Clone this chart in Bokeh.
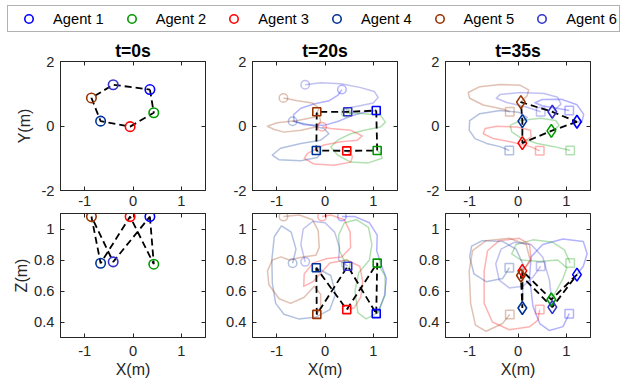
from bokeh.plotting import figure
from bokeh.models import Range1d, FixedTicker, LinearAxis, Legend, LegendItem
from bokeh.layouts import column, row
from bokeh.embed import file_html
from bokeh.resources import INLINE

# ---------------- data ----------------
agents = ["Agent 1", "Agent 2", "Agent 3", "Agent 4", "Agent 5", "Agent 6"]
colors = ["#0000FF", "#009900", "#FF0000", "#003399", "#993300", "#3333CC"]
titles = ["t=0s", "t=20s", "t=35s"]

x_ticks = [-1, 0, 1]
x_tick_labels = ["-1", "0", "1"]
y_ticks = [-2, 0, 2]
y_tick_labels = ["-2", "0", "2"]
z_ticks = [0.4, 0.6, 0.8, 1.0]
z_tick_labels = ["0.4", "0.6", "0.8", "1"]

ring = [0, 1, 2, 3, 4, 5, 0]

# agent positions (X, Y, Z) at the three instants
x_t0 = [0.35, 0.43, -0.06, -0.67, -0.86, -0.41]
y_t0 = [1.13, 0.41, -0.02, 0.15, 0.87, 1.28]
z_t0 = [1.08, 0.773, 1.08, 0.779, 1.08, 0.788]

x_t20 = [1.06, 1.08, 0.45, -0.18, -0.17, 0.47]
y_t20 = [0.48, -0.76, -0.77, -0.76, 0.44, 0.44]
z_t20 = [0.454, 0.78, 0.48, 0.75, 0.449, 0.76]

x_t35 = [1.22, 0.69, 0.09, 0.09, 0.06, 0.71]
y_t35 = [0.13, -0.15, -0.53, 0.15, 0.74, 0.44]
z_t35 = [0.706, 0.545, 0.73, 0.49, 0.70, 0.496]

# trajectories 0s -> 20s, top view (X, Y)
path_xy_20_x = [
    [0.35, 0.27, 0.08, -0.23, -0.50, -0.65, -0.64, -0.43, -0.02, 0.26, 0.53, 0.81, 1.06],
    [0.43, 0.81, 1.15, 1.25, 1.15, 0.81, 0.53, 0.26, 0.12, 0.26, 0.53, 0.88, 1.18, 1.15, 1.08],
    [-0.06, 0.12, 0.53, 0.77, 0.67, 0.33, -0.02, -0.36, -0.43, -0.23, 0.19, 0.53, 0.57, 0.45],
    [-0.67, -0.33, -0.02, 0.08, -0.09, -0.50, -0.92, -1.09, -0.95, -0.50, -0.16, -0.09, -0.18],
    [-0.86, -0.57, -0.26, -0.12, -0.22, -0.57, -0.99, -1.19, -1.05, -0.85, -0.50, -0.19, -0.09, -0.12, -0.17],
    [-0.41, -0.09, 0.33, 0.74, 1.02, 1.10, 1.00, 0.67, 0.43, 0.47],
]
path_xy_20_y = [
    [1.13, 0.96, 0.78, 0.68, 0.55, 0.35, 0.15, 0.04, 0.02, 0.14, 0.30, 0.43, 0.48],
    [0.41, 0.38, 0.33, 0.12, -0.03, -0.13, -0.24, -0.44, -0.65, -0.90, -1.12, -1.15, -1.00, -0.85, -0.76],
    [-0.02, -0.08, -0.13, -0.31, -0.44, -0.49, -0.59, -0.85, -1.00, -1.18, -1.22, -1.12, -0.95, -0.77],
    [0.15, 0.04, -0.08, -0.24, -0.44, -0.54, -0.69, -0.90, -1.05, -1.08, -0.98, -0.84, -0.76],
    [0.87, 0.78, 0.71, 0.55, 0.27, 0.17, 0.10, -0.01, -0.11, -0.19, -0.13, -0.03, 0.14, 0.33, 0.44],
    [1.28, 1.34, 1.31, 1.19, 1.07, 0.89, 0.71, 0.61, 0.55, 0.44],
]

# trajectories 20s -> 35s, top view (X, Y)
path_xy_35_x = [
    [1.06, 0.80, 0.50, 0.35, 0.50, 0.90, 1.22, 1.36, 1.32, 1.22],
    [1.08, 0.75, 0.40, 0.08, -0.13, -0.16, 0.05, 0.47, 0.78, 0.85, 0.75, 0.69],
    [0.45, 0.26, -0.16, -0.51, -0.72, -0.68, -0.44, -0.02, 0.26, 0.27, 0.09],
    [-0.18, -0.37, -0.65, -0.89, -1.01, -1.00, -0.79, -0.37, 0.01, 0.19, 0.09],
    [-0.17, -0.30, -0.72, -1.00, -1.03, -0.79, -0.37, 0.05, 0.22, 0.19, 0.06],
    [0.47, 0.19, -0.23, -0.45, -0.37, 0.05, 0.54, 0.82, 0.89, 0.71],
]
path_xy_35_y = [
    [0.48, 0.55, 0.63, 0.72, 0.82, 0.83, 0.66, 0.36, 0.12, 0.13],
    [-0.76, -0.64, -0.54, -0.39, -0.18, 0.02, 0.17, 0.24, 0.17, 0.02, -0.12, -0.15],
    [-0.77, -0.64, -0.49, -0.39, -0.24, -0.08, -0.01, -0.03, -0.13, -0.34, -0.53],
    [-0.76, -0.64, -0.54, -0.39, -0.13, 0.17, 0.38, 0.48, 0.43, 0.27, 0.15],
    [0.44, 0.52, 0.65, 0.86, 1.04, 1.22, 1.29, 1.26, 1.12, 0.94, 0.74],
    [0.44, 0.58, 0.73, 0.86, 0.98, 1.04, 1.01, 0.89, 0.68, 0.44],
]

# trajectories 0s -> 20s, side view (X, Z)
path_xz_20_x = [
    [0.35, 0.62, 0.92, 1.08, 1.07, 1.15, 1.27, 1.23, 1.12, 1.06],
    [0.43, 0.30, 0.28, 0.40, 0.65, 0.90, 0.97, 0.92, 0.70, 0.62, 0.68, 0.85, 1.10, 1.25, 1.24, 1.08],
    [-0.06, 0.12, 0.40, 0.52, 0.53, 0.35, 0.05, -0.25, -0.43, -0.44, -0.25, 0.10, 0.45, 0.72, 0.78, 0.74, 0.60, 0.45],
    [-0.67, -0.60, -0.70, -0.90, -1.05, -1.10, -1.09, -1.02, -0.85, -0.55, -0.20, 0.10, 0.22, 0.12, -0.18],
    [-0.86, -0.53, -0.26, -0.14, -0.12, -0.19, -0.46, -0.74, -0.91, -1.09, -1.19, -1.16, -0.95, -0.71, -0.43, -0.22, -0.09, -0.09, -0.17],
    [-0.41, -0.50, -0.45, -0.25, 0.00, 0.20, 0.30, 0.28, 0.47],
]
path_xz_20_z = [
    [1.08, 1.08, 1.04, 0.96, 0.86, 0.78, 0.68, 0.57, 0.48, 0.454],
    [0.773, 0.86, 0.96, 1.04, 1.06, 1.01, 0.90, 0.80, 0.72, 0.60, 0.46, 0.42, 0.46, 0.58, 0.70, 0.78],
    [1.08, 1.09, 1.06, 0.98, 0.88, 0.82, 0.81, 0.78, 0.71, 0.63, 0.66, 0.78, 0.80, 0.76, 0.66, 0.56, 0.49, 0.48],
    [0.779, 0.87, 0.98, 1.02, 0.95, 0.80, 0.65, 0.52, 0.45, 0.42, 0.43, 0.48, 0.58, 0.70, 0.75],
    [1.08, 1.09, 1.06, 0.99, 0.88, 0.83, 0.82, 0.80, 0.82, 0.80, 0.73, 0.64, 0.55, 0.52, 0.56, 0.63, 0.58, 0.50, 0.449],
    [0.788, 0.90, 1.00, 1.05, 1.04, 0.98, 0.88, 0.80, 0.76],
]

# trajectories 20s -> 35s, side view (X, Z)
path_xz_35_x = [
    [1.06, 0.93, 0.65, 0.45, 0.31, 0.24, 0.27, 0.51, 0.93, 1.35, 1.43, 1.35, 1.22],
    [1.08, 0.96, 0.72, 0.31, -0.04, -0.13, 0.06, 0.45, 0.82, 1.01, 0.93, 0.79, 0.69],
    [0.45, 0.41, 0.24, -0.18, -0.53, -0.70, -0.70, -0.63, -0.39, 0.03, 0.24, 0.27, 0.09],
    [-0.18, -0.32, -0.66, -0.91, -1.00, -0.96, -0.74, -0.32, -0.04, 0.10, 0.10, 0.09],
    [-0.17, -0.32, -0.66, -0.88, -0.98, -1.01, -0.94, -0.66, -0.18, 0.17, 0.25, 0.06],
    [0.47, 0.31, 0.10, -0.18, -0.39, -0.46, -0.35, -0.08, 0.27, 0.51, 0.65, 0.71],
]
path_xz_35_z = [
    [0.454, 0.37, 0.345, 0.39, 0.50, 0.69, 0.82, 0.90, 0.936, 0.92, 0.84, 0.76, 0.706],
    [0.78, 0.865, 0.914, 0.93, 0.90, 0.84, 0.80, 0.79, 0.80, 0.75, 0.68, 0.60, 0.545],
    [0.48, 0.41, 0.37, 0.35, 0.40, 0.52, 0.73, 0.86, 0.925, 0.94, 0.90, 0.80, 0.73],
    [0.75, 0.68, 0.66, 0.71, 0.82, 0.89, 0.925, 0.92, 0.87, 0.775, 0.646, 0.49],
    [0.449, 0.39, 0.34, 0.38, 0.52, 0.73, 0.86, 0.925, 0.94, 0.90, 0.80, 0.70],
    [0.76, 0.69, 0.63, 0.62, 0.67, 0.775, 0.87, 0.914, 0.90, 0.82, 0.67, 0.496],
]

# ---------------- styling ----------------
FONT = "Liberation Sans"
AX = "#262626"
TICK_FS = "14.7px"


def style_axis(ax, ticks, labels, show, standoff=6):
    ax.ticker = FixedTicker(ticks=ticks)
    ax.major_tick_in = 4
    ax.major_tick_out = 0
    ax.minor_tick_in = 0
    ax.minor_tick_out = 0
    ax.axis_line_color = AX
    ax.major_tick_line_color = AX
    ax.major_label_text_font = FONT
    ax.major_label_text_color = AX
    if show:
        ax.major_label_overrides = {t: l for t, l in zip(ticks, labels)}
        ax.major_label_text_font_size = TICK_FS
        ax.major_label_standoff = standoff
    else:
        ax.major_label_overrides = {t: "" for t in ticks}
        ax.major_label_text_font_size = "0px"
        ax.major_label_standoff = 0


def style_label(ax, text, standoff):
    ax.axis_label = text
    ax.axis_label_text_font = FONT
    ax.axis_label_text_font_size = "16px"
    ax.axis_label_text_font_style = "normal"
    ax.axis_label_text_color = AX
    ax.axis_label_standoff = standoff


def make_panel(w, h, bl, br, bt, bb, yr, yt, ylbl, title=None, ylabel=None, xlabel=None,
               ylabel_standoff=2, x_std=5):
    p = figure(width=w, height=h, x_range=Range1d(-1.5, 1.5), y_range=Range1d(*yr),
               output_backend="svg", toolbar_location=None, title=title,
               x_axis_location=None, y_axis_location=None,
               min_border_left=bl, min_border_right=br, min_border_top=bt, min_border_bottom=bb)
    p.grid.visible = False
    p.outline_line_color = AX
    p.outline_line_width = 1
    p.background_fill_color = "white"
    p.border_fill_color = "white"
    bottom_ax = LinearAxis()
    left_ax = LinearAxis()
    top_ax = LinearAxis()
    right_ax = LinearAxis()
    style_axis(bottom_ax, x_ticks, x_tick_labels, True, x_std)
    style_axis(left_ax, yt, ylbl, True, 6)
    style_axis(top_ax, x_ticks, x_tick_labels, False)
    style_axis(right_ax, yt, ylbl, False)
    if ylabel:
        style_label(left_ax, ylabel, ylabel_standoff)
    if xlabel:
        style_label(bottom_ax, xlabel, 2)
    p.add_layout(bottom_ax, "below")
    p.add_layout(left_ax, "left")
    p.add_layout(top_ax, "above")
    p.add_layout(right_ax, "right")
    if title is not None:
        p.title.align = "center"
        p.title.text_font = FONT
        p.title.text_font_size = "17.6px"
        p.title.text_font_style = "bold"
        p.title.text_color = "black"
        p.title.standoff = 2
    return p


def add_content(p, cx, cy, marker, msize, px=None, py=None, prev_x=None, prev_y=None, prev_marker=None):
    if px is not None:
        p.multi_line(xs=px, ys=py, line_color=colors, line_alpha=0.3, line_width=1.5,
                     line_join="round")
        p.scatter(prev_x, prev_y, marker=prev_marker, size=8.5, fill_color=None,
                  line_color=colors, line_alpha=0.3, line_width=1.5)
    p.line([cx[i] for i in ring], [cy[i] for i in ring], line_color="black",
           line_width=1.8, line_dash="7 4")
    p.scatter(cx, cy, marker=marker, size=msize, fill_color=None, line_color=colors,
              line_width=1.6)


# geometry of the grid
W = [215, 192, 214]
BL = [60, 37, 38]
BR = [10, 10, 31]
H_LEG, H_TOP, H_BOT = 37, 175, 174

top = []
bot = []
for k in range(3):
    top.append(make_panel(W[k], H_TOP, BL[k], BR[k], 22, 22, (-2, 2), y_ticks, y_tick_labels,
                          title=titles[k], ylabel="Y(m)" if k == 0 else None,
                          ylabel_standoff=5, x_std=5))
    bot.append(make_panel(W[k], H_BOT, BL[k], BR[k], 1, 49, (0.3, 1.1), z_ticks, z_tick_labels,
                          ylabel="Z(m)" if k == 0 else None, xlabel="X(m)",
                          ylabel_standoff=1, x_std=8))

add_content(top[0], x_t0, y_t0, "circle", 9.5)
add_content(top[1], x_t20, y_t20, "square", 8, path_xy_20_x, path_xy_20_y, x_t0, y_t0, "circle")
add_content(top[2], x_t35, y_t35, "diamond", 13, path_xy_35_x, path_xy_35_y, x_t20, y_t20, "square")
add_content(bot[0], x_t0, z_t0, "circle", 9.5)
add_content(bot[1], x_t20, z_t20, "square", 8, path_xz_20_x, path_xz_20_z, x_t0, z_t0, "circle")
add_content(bot[2], x_t35, z_t35, "diamond", 13, path_xz_35_x, path_xz_35_z, x_t20, z_t20, "square")

# legend strip (legend-only renderers hold no visible point)
lp = figure(width=621, height=H_LEG, x_range=Range1d(0, 1), y_range=Range1d(0, 1),
            output_backend="svg", toolbar_location=None, x_axis_location=None,
            y_axis_location=None, min_border=0)
lp.grid.visible = False
lp.outline_line_color = None
items = []
for i, name in enumerate(agents):
    r = lp.scatter(x=[float("nan")], y=[float("nan")], marker="circle", size=8,
                   fill_color=None, line_color=colors[i], line_width=1.6)
    items.append(LegendItem(label=name, renderers=[r]))
leg = Legend(items=items, orientation="horizontal", location=(7, 5), glyph_width=37,
             glyph_height=21, label_standoff=6, spacing=9, padding=2, label_width=50,
             margin=0, border_line_color="#666666", border_line_width=1,
             label_text_font=FONT, label_text_font_size="14.7px", label_text_color="black",
             background_fill_color="white", background_fill_alpha=1)
lp.add_layout(leg, "center")

layout = column(lp, row(*top), row(*bot))
open("out.html", "w").write(file_html(layout, INLINE))
